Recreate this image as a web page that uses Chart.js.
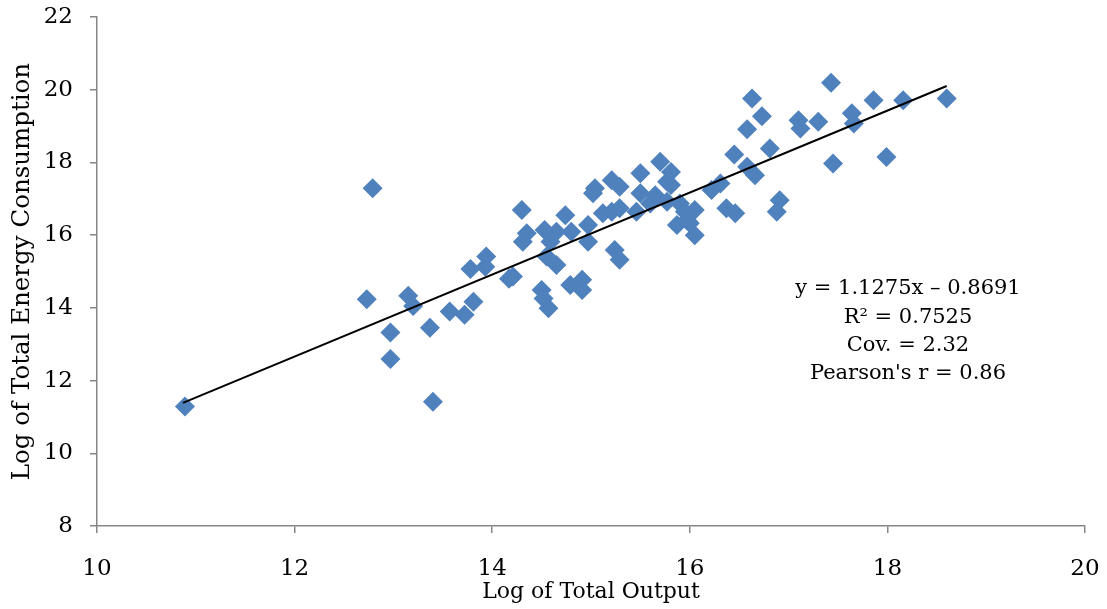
<!DOCTYPE html>
<html>
<head>
<meta charset="utf-8">
<script src="https://cdn.jsdelivr.net/npm/chart.js@4"></script>
<style>
  html, body { margin: 0; padding: 0; background: #fff; }
  #wrap { width: 1107px; height: 609px; }
</style>
</head>
<body>
<div id="wrap"><canvas id="chart"></canvas></div>
<script>
// log of total output (x) and log of total energy consumption (y)
const outputLog = [
  10.89, 12.79, 12.73, 12.97, 12.97, 13.15, 13.20, 13.37, 13.40, 13.57,
  13.72, 13.81, 13.78, 13.94, 13.93, 14.21, 14.17, 14.30, 14.35, 14.31,
  14.53, 14.65, 14.80, 14.59, 14.97, 14.97, 14.55, 14.65, 14.50, 14.52,
  14.57, 14.79, 14.91, 14.91, 14.74, 15.04, 15.02, 15.21, 15.29, 15.12,
  15.21, 15.29, 15.24, 15.29, 15.50, 15.50, 15.46, 15.70, 15.81, 15.77,
  15.81, 15.65, 15.60, 15.77, 15.90, 15.95, 16.05, 15.87, 16.05, 16.00,
  15.97, 16.22, 16.31, 16.37, 16.46, 16.45, 16.58, 16.66, 16.81, 16.58,
  16.73, 16.63, 16.91, 16.88, 17.10, 17.12, 17.30, 17.43, 17.45, 17.64,
  17.66, 17.86, 17.99, 18.16, 18.60
];
const energyLog = [
  11.29, 17.29, 14.24, 13.32, 12.59, 14.33, 14.05, 13.45, 11.42, 13.90,
  13.81, 14.17, 15.07, 15.41, 15.13, 14.86, 14.80, 16.69, 16.05, 15.82,
  16.14, 16.09, 16.09, 15.82, 16.28, 15.82, 15.41, 15.18, 14.49, 14.26,
  13.99, 14.63, 14.77, 14.49, 16.55, 17.29, 17.15, 17.51, 17.33, 16.60,
  16.64, 16.74, 15.59, 15.32, 17.70, 17.15, 16.64, 18.02, 17.74, 17.47,
  17.38, 17.10, 16.87, 16.92, 16.87, 16.64, 16.69, 16.28, 16.00, 16.33,
  16.41, 17.24, 17.42, 16.74, 16.60, 18.22, 17.88, 17.65, 18.38, 18.91,
  19.27, 19.76, 16.96, 16.64, 19.16, 18.93, 19.12, 20.19, 17.97, 19.35,
  19.07, 19.71, 18.15, 19.71, 19.76
];

// fitted line: y = 1.1275x - 0.8691, over the range of the data
const slope = 1.1275;
const intercept = -0.8691;
const trendRange = [10.87, 18.6];

const statLines = [
  'y = 1.1275x \u2013 0.8691',
  'R\u00b2 = 0.7525',
  'Cov. = 2.32',
  "Pearson's r = 0.86"
];

const xTicks = [10, 12, 14, 16, 18, 20];
const yTicks = [8, 10, 12, 14, 16, 18, 20, 22];

const points = outputLog.map((x, i) => ({ x: x, y: energyLog[i] }));
const trendPoints = trendRange.map(x => ({ x: x, y: slope * x + intercept }));

const fontFamily = '"DejaVu Serif", "Liberation Serif", serif';
const axisGrey = '#868686';

const statsText = {
  id: 'statsText',
  afterDatasetsDraw(chart) {
    const ctx = chart.ctx;
    ctx.save();
    ctx.fillStyle = '#000';
    ctx.font = '21px ' + fontFamily;
    ctx.textAlign = 'center';
    ctx.textBaseline = 'middle';
    statLines.forEach((line, i) => {
      ctx.fillText(line, 908, 289 + i * 28.3);
    });
    ctx.restore();
  }
};

const ctx = document.getElementById('chart').getContext('2d');
new Chart(ctx, {
  type: 'scatter',
  data: {
    datasets: [
      {
        type: 'line',
        data: trendPoints,
        borderColor: '#000',
        borderWidth: 2,
        pointRadius: 0,
        fill: false,
        order: 0
      },
      {
        data: points,
        pointStyle: 'rectRot',
        pointRadius: 10,
        pointBackgroundColor: '#4F81BD',
        pointBorderColor: '#4F81BD',
        pointBorderWidth: 0,
        order: 1
      }
    ]
  },
  options: {
    responsive: true,
    maintainAspectRatio: false,
    animation: false,
    layout: { padding: { left: 0, top: 17, right: 22, bottom: 0 } },
    plugins: {
      legend: { display: false },
      tooltip: { enabled: false }
    },
    scales: {
      x: {
        type: 'linear',
        min: 10,
        max: 20,
        afterBuildTicks: (scale) => { scale.ticks = xTicks.map(v => ({ value: v })); },
        afterFit: (scale) => {
          scale.height = 83;
          scale.paddingLeft = 0;
          scale.paddingRight = 0;
        },
        ticks: {
          color: '#000',
          font: { family: fontFamily, size: 23 },
          padding: 22
        },
        grid: {
          display: true,
          drawOnChartArea: false,
          drawTicks: true,
          tickLength: 7,
          color: axisGrey,
          lineWidth: 1.5
        },
        border: { display: true, color: axisGrey, width: 1.5 },
        title: {
          display: true,
          text: 'Log of Total Output',
          color: '#000',
          font: { family: fontFamily, size: 22 },
          padding: { top: 0, bottom: 4 }
        }
      },
      y: {
        type: 'linear',
        min: 8,
        max: 22,
        afterBuildTicks: (scale) => { scale.ticks = yTicks.map(v => ({ value: v })); },
        afterFit: (scale) => {
          scale.width = 97;
          scale.paddingTop = 0;
          scale.paddingBottom = 0;
        },
        ticks: {
          color: '#000',
          font: { family: fontFamily, size: 23 },
          padding: 17
        },
        grid: {
          display: true,
          drawOnChartArea: false,
          drawTicks: true,
          tickLength: 7,
          color: axisGrey,
          lineWidth: 1.5
        },
        border: { display: true, color: axisGrey, width: 1.5 },
        title: {
          display: true,
          text: 'Log of Total Energy Consumption',
          color: '#000',
          font: { family: fontFamily, size: 24.5 },
          padding: { top: 8, bottom: 0 }
        }
      }
    }
  },
  plugins: [statsText]
});
</script>
</body>
</html>
